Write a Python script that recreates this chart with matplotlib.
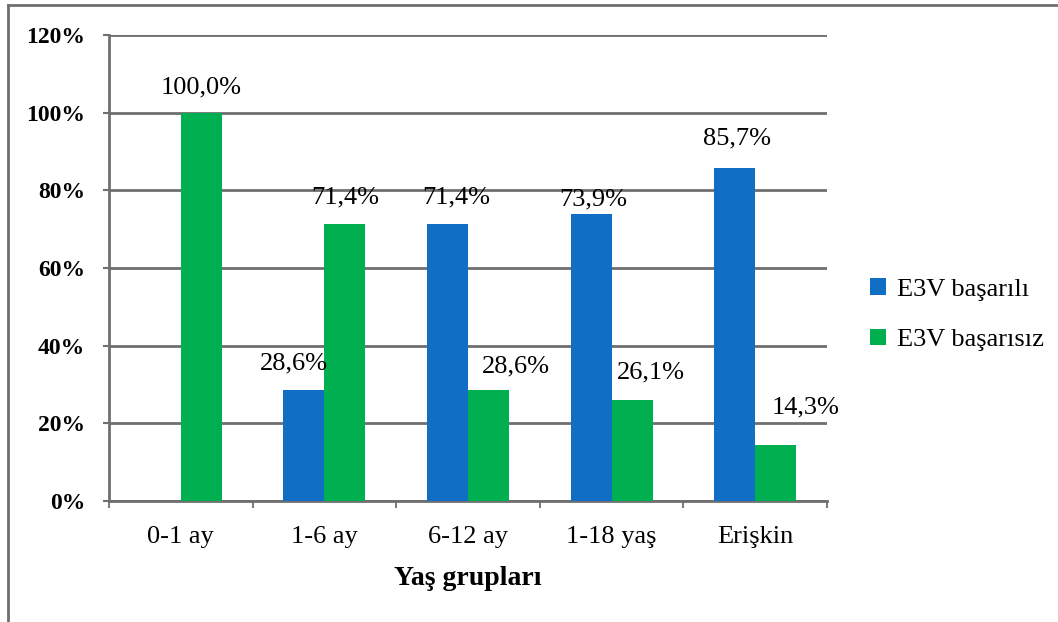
import matplotlib.pyplot as plt
import numpy as np
from matplotlib.lines import Line2D

# veriler
categories = ['0-1 ay', '1-6 ay', '6-12 ay', '1-18 yaş', 'Erişkin']
basarili = [0.0, 28.6, 71.4, 73.9, 85.7]
basarisiz = [100.0, 71.4, 28.6, 26.1, 14.3]
series_names = ['E3V başarılı', 'E3V başarısız']
yticks = [0, 20, 40, 60, 80, 100, 120]

BLUE = '#106ec5'
GREEN = '#00af50'
GRAY = '#6f6f6f'

# etiketlerin çubuk üstünden kayması (piksel)
off_basarili = [None, (-10, 27), (9, 26), (2, 15), (2, 30)]
off_basarisiz = [(0, 25), (0, 26), (27, 24), (19, 27), (30, 38)]

plt.rcParams['font.family'] = ['Liberation Serif', 'DejaVu Serif']

fig = plt.figure(figsize=(10.58, 6.22), dpi=100)
ax = fig.add_axes([0.103, 0.1945, 0.6787, 0.7492])

x = np.arange(len(categories))
w = 0.286
b1 = ax.bar(x - w / 2, basarili, w, color=BLUE, label=series_names[0], zorder=3)
b2 = ax.bar(x + w / 2, basarisiz, w, color=GREEN, label=series_names[1], zorder=3)

# değer etiketleri
for bars, vals, offs in ((b1, basarili, off_basarili), (b2, basarisiz, off_basarisiz)):
    for bar, v, off in zip(bars, vals, offs):
        if off is None:
            continue
        ax.annotate(f'{v:.1f}%'.replace('.', ','),
                    (bar.get_x() + bar.get_width() / 2, v),
                    xytext=off, textcoords='offset pixels',
                    ha='center', va='center', fontsize=19, zorder=5,
                    annotation_clip=False)

ax.set_ylim(0, 120)
ax.set_xlim(-0.5, len(categories) - 0.5)
ax.set_yticks(yticks)
ax.set_yticklabels([f'{t}%' for t in yticks], fontsize=17, fontweight='bold')
ax.yaxis.grid(True, color=GRAY, linewidth=2, zorder=0)

# kategori sınırlarında tik, ortalarda etiket
ax.set_xticks(np.arange(len(categories) + 1) - 0.5)
ax.set_xticklabels([])
ax.set_xticks(x, minor=True)
ax.set_xticklabels(categories, minor=True, fontsize=19)
ax.tick_params(axis='x', which='minor', length=0, pad=18)
ax.tick_params(axis='x', which='major', length=5, width=1.3, color=GRAY)
ax.tick_params(axis='y', length=4, width=1.5, color=GRAY, pad=13)

for s in ('top', 'right'):
    ax.spines[s].set_visible(False)
for s in ('left', 'bottom'):
    ax.spines[s].set_color(GRAY)
    ax.spines[s].set_linewidth(2)

ax.set_xlabel('Yaş grupları', fontsize=20, fontweight='bold', labelpad=13)

fig.legend(handles=[b1, b2], loc='center left', bbox_to_anchor=(0.8, 0.494),
           frameon=False, fontsize=19, handlelength=0.6, handleheight=0.6,
           handletextpad=0.4, labelspacing=1.05)

# dış çerçeve (üst ve sol kenar)
fig.add_artist(Line2D([0.0076, 0.0076], [0.0, 0.992], color=GRAY, linewidth=2))
fig.add_artist(Line2D([0.0076, 1.0], [0.992, 0.992], color=GRAY, linewidth=2))

fig.savefig('out.png', dpi=100)
